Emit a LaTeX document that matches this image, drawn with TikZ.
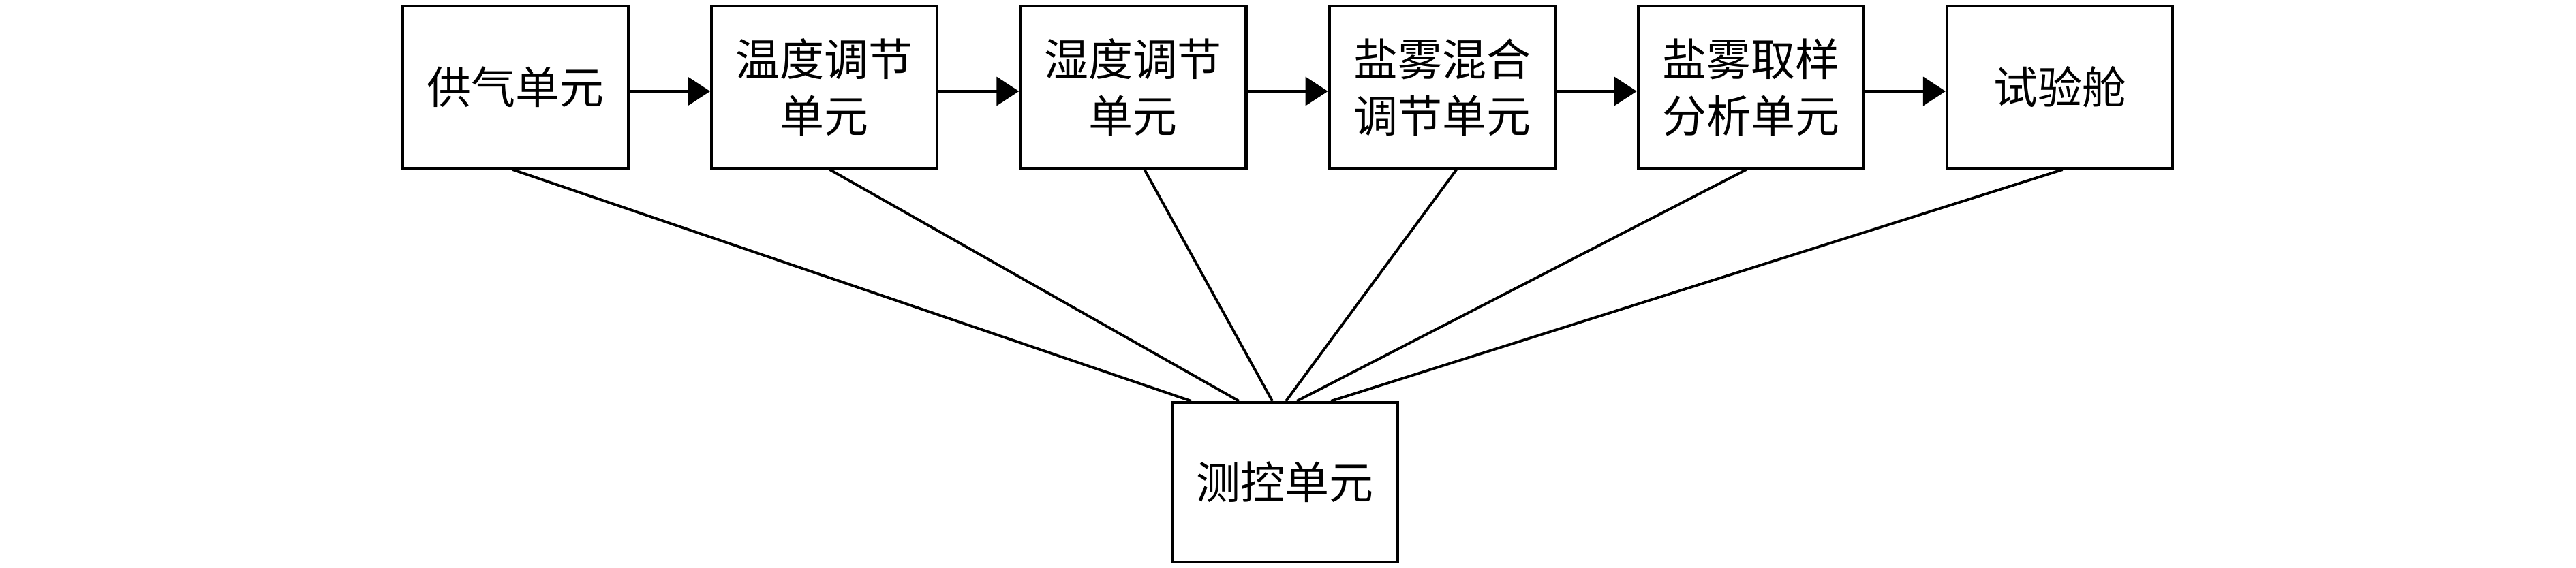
\documentclass[tikz,border=0pt]{standalone}
\usepackage{fontspec}
\setmainfont{Noto Sans CJK SC}
\usepackage{tikz}
\usetikzlibrary{positioning, arrows.meta}
\tikzset{>={Triangle[length=3.3mm,width=4.2mm]}}
\tikzset{unit/.style={draw, line width=1.2pt, minimum width=3.31cm, minimum height=2.38cm,
    align=center, inner sep=0pt, font=\fontsize{18.5pt}{23.5pt}\selectfont}}

\begin{document}
\begin{tikzpicture}[]

    \useasboundingbox (0,0) rectangle (37.8,-8.34);

    % Process chain
    \node[unit] (gas) at (7.565,-1.28) {供气单元};
    \node[unit, right=1.18cm of gas] (temp) {温度调节\\单元};
    \node[unit, right=1.18cm of temp] (humid) {湿度调节\\单元};
    \node[unit, right=1.18cm of humid] (mix) {盐雾混合\\调节单元};
    \node[unit, right=1.18cm of mix] (sample) {盐雾取样\\分析单元};
    \node[unit, right=1.18cm of sample] (cabin) {试验舱};

    % Control unit
    \node[unit, minimum height=2.34cm] (ctrl) at (18.855,-7.08) {测控单元};

    \foreach \a/\b in {gas/temp, temp/humid, humid/mix, mix/sample, sample/cabin}{
        \draw[->, line width=1.1pt] ([yshift=-0.06cm]\a.east) -- ([yshift=-0.06cm]\b.west);
    }

    \foreach \a/\dx/\ex in {gas/-0.04/-1.375, temp/0.08/-0.675, humid/0.165/-0.185,
                            mix/0.21/0.015, sample/-0.07/0.175, cabin/0.04/0.675}{
        \draw[line width=1.1pt] ([xshift=\dx cm]\a.south) -- ([xshift=\ex cm]ctrl.north);
    }

\end{tikzpicture}
\end{document}
